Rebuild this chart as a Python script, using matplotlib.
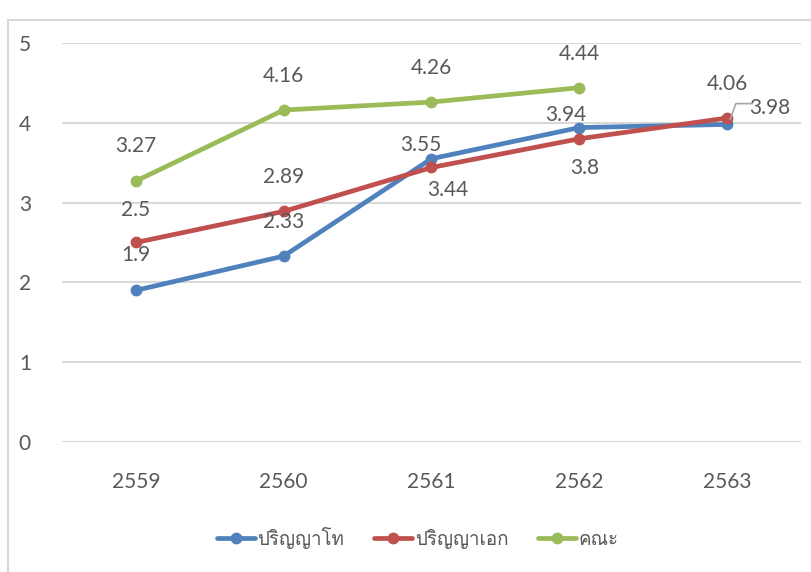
import matplotlib
matplotlib.use("Agg")
import matplotlib.pyplot as plt
from matplotlib import font_manager, ft2font
from matplotlib.patches import Rectangle

years = ["2559", "2560", "2561", "2562", "2563"]
master = [1.9, 2.33, 3.55, 3.94, 3.98]
doctor = [2.5, 2.89, 3.44, 3.8, 4.06]
faculty = [3.27, 4.16, 4.26, 4.44]
series_names = ["ปริญญาโท", "ปริญญาเอก", "คณะ"]
yticks = [0, 1, 2, 3, 4, 5]

# find a font with Thai glyphs
thai_family = None
for f in font_manager.fontManager.ttflist:
    try:
        ft = ft2font.FT2Font(f.fname)
        if 0x0E1B in ft.get_charmap() and 0x0E0D in ft.get_charmap():
            thai_family = f.name
            break
    except Exception:
        pass

num_font = ["Lato", "DejaVu Sans"]
fams = ["Lato"] + ([thai_family] if thai_family else []) + ["DejaVu Sans"]
plt.rcParams["font.family"] = fams

TXT = "#595959"
GRID = "#D9D9D9"
colors = ["#4F81BD", "#C0504D", "#9BBB59"]
WEIGHT = "normal"

fig = plt.figure(figsize=(8.12, 5.72), dpi=100)
W, H = 812, 572
ax = fig.add_axes([62 / W, 1 - 442 / H, (801 - 62) / W, (442 - 43) / H])

# outer frame
fig.patches.append(Rectangle((8 / W, -0.1), 1.2, (1 - 20 / H) + 0.1, transform=fig.transFigure,
                             fill=False, edgecolor=GRID, linewidth=1.5))

x = list(range(len(years)))
all_series = [master, doctor, faculty]
for vals, c, name in zip(all_series, colors, series_names):
    ax.plot(x[:len(vals)], vals, color=c, linewidth=3.4, marker="o", markersize=7.5,
            solid_capstyle="round", label=name, zorder=3)

# label offsets in pixels (dx, dy)
offsets = [
    [(0, 35), (0, 34), (-11, 14), (-14, 13), None],
    [(0, 33), (0, 34), (16, -23), (5, -29), (0, 34)],
    [(0, 35), (0, 34), (0, 34), (0, 34)],
]
for vals, offs in zip(all_series, offsets):
    for i, (v, o) in enumerate(zip(vals, offs)):
        if o is None:
            continue
        ax.annotate(f"{v:g}", (i, v), xytext=o, textcoords="offset pixels",
                    ha="center", va="center", fontsize=15, color=TXT, family=num_font,
                    fontweight=WEIGHT)

# 3.98 label with leader line
ax.annotate(f"{master[4]:g}", (4, master[4]), xytext=(43, 16), textcoords="offset pixels",
            ha="center", va="center", fontsize=15, color=TXT, family=num_font, fontweight=WEIGHT)
ax.annotate("", (4.02, master[4] + 0.06), xytext=(22, 16), textcoords="offset pixels",
            arrowprops=dict(arrowstyle="-", color="#A6A6A6", lw=1.2,
                            connectionstyle="angle,angleA=0,angleB=70,rad=0",
                            shrinkA=0, shrinkB=0))

ax.set_xlim(-0.5, len(years) - 0.5)
ax.set_ylim(0, 5)
ax.set_xticks(x)
ax.set_xticklabels(years)
ax.set_yticks(yticks)
ax.set_yticklabels([str(t) for t in yticks])
ax.grid(axis="y", color=GRID, linewidth=1.5)
ax.set_axisbelow(True)
for s in ax.spines.values():
    s.set_visible(False)
ax.tick_params(axis="both", length=0, labelsize=15, labelcolor=TXT)
ax.tick_params(axis="y", pad=31 * 0.72)
ax.tick_params(axis="x", pad=30 * 0.72)
for lab in ax.get_xticklabels() + ax.get_yticklabels():
    lab.set_family(num_font)
    lab.set_fontweight(WEIGHT)

leg = fig.legend(loc="center", bbox_to_anchor=(418 / W, 1 - 538 / H), ncol=3, frameon=False,
                 fontsize=13.5, handlelength=2.0, columnspacing=1.6, handletextpad=0.15,
                 labelcolor=TXT)

fig.savefig("out.png", dpi=100)
